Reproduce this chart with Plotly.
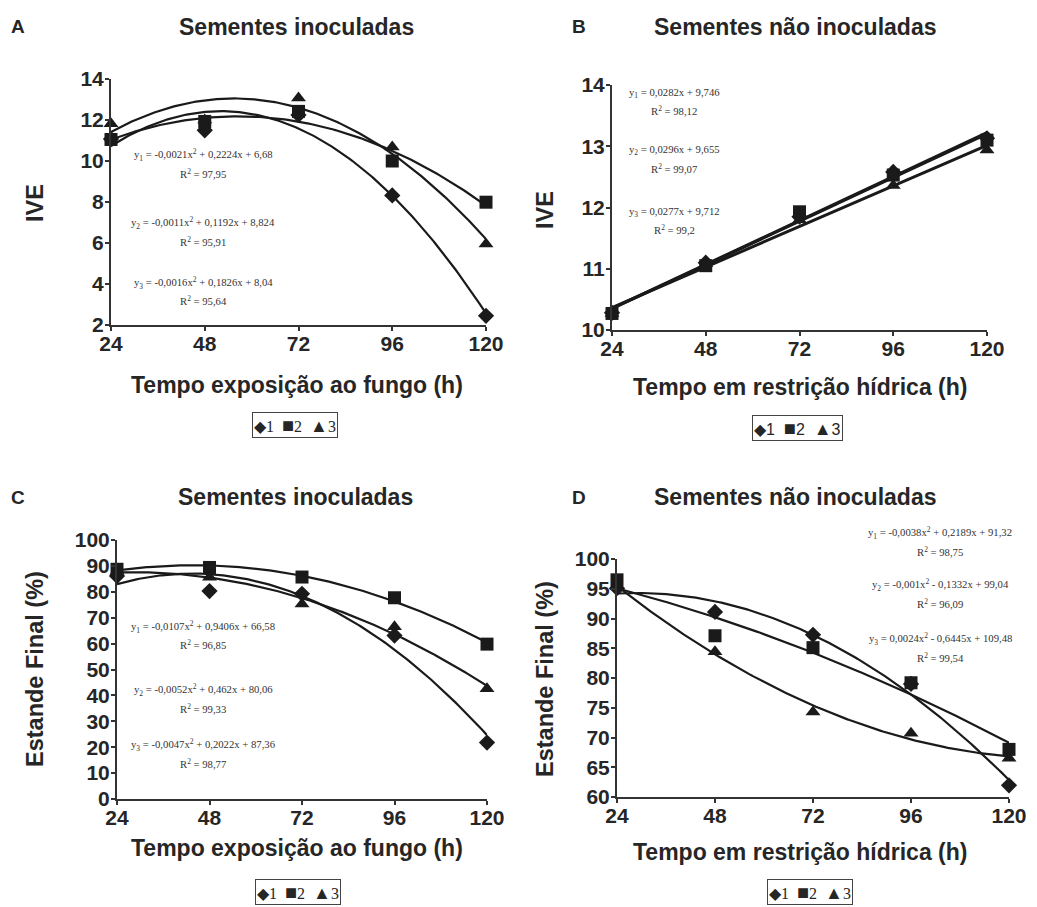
import numpy as np
import plotly.graph_objects as go

# ---------------- data ----------------
hours = [24, 48, 72, 96, 120]
series_names = ["1", "2", "3"]

# Panel A: IVE, inoculated seeds (exposure to fungus)
ive_inoc_1 = [11.07, 11.5, 12.25, 8.32, 2.45]
ive_inoc_2 = [11.05, 11.93, 12.42, 10.0, 7.99]
ive_inoc_3 = [11.82, 12.0, 13.07, 10.68, 5.95]

# Panel B: IVE, non-inoculated seeds (water restriction)
ive_non_1 = [10.28, 11.1, 11.85, 12.58, 13.13]
ive_non_2 = [10.27, 11.05, 11.93, 12.53, 13.1]
ive_non_3 = [10.27, 11.08, 11.8, 12.36, 12.94]

# Panel C: final stand (%), inoculated
est_inoc_1 = [86.1, 80.3, 79.2, 63.1, 21.8]
est_inoc_2 = [88.7, 89.4, 85.7, 77.7, 59.8]
est_inoc_3 = [87.8, 85.6, 75.3, 66.5, 42.6]

# Panel D: final stand (%), non-inoculated
est_non_1 = [95.1, 91.1, 87.25, 79.0, 61.97]
est_non_2 = [96.5, 87.1, 85.1, 79.2, 68.0]
est_non_3 = [95.4, 84.4, 74.3, 70.7, 66.5]

eq_A = ["y<sub>1</sub> = -0,0021x<sup>2</sup> + 0,2224x + 6,68", "R<sup>2</sup> = 97,95",
        "y<sub>2</sub> = -0,0011x<sup>2</sup> + 0,1192x + 8,824", "R<sup>2</sup> = 95,91",
        "y<sub>3</sub> = -0,0016x<sup>2</sup> + 0,1826x + 8,04", "R<sup>2</sup> = 95,64"]
eq_B = ["y<sub>1</sub> = 0,0282x + 9,746", "R<sup>2</sup> = 98,12",
        "y<sub>2</sub> = 0,0296x + 9,655", "R<sup>2</sup> = 99,07",
        "y<sub>3</sub> = 0,0277x + 9,712", "R<sup>2</sup> = 99,2"]
eq_C = ["y<sub>1</sub> = -0,0107x<sup>2</sup> + 0,9406x + 66,58", "R<sup>2</sup> = 96,85",
        "y<sub>2</sub> = -0,0052x<sup>2</sup> + 0,462x + 80,06", "R<sup>2</sup> = 99,33",
        "y<sub>3</sub> = -0,0047x<sup>2</sup> + 0,2022x + 87,36", "R<sup>2</sup> = 98,77"]
eq_D = ["y<sub>1</sub> = -0,0038x<sup>2</sup> + 0,2189x + 91,32", "R<sup>2</sup> = 98,75",
        "y<sub>2</sub> = -0,001x<sup>2</sup> - 0,1332x + 99,04", "R<sup>2</sup> = 96,09",
        "y<sub>3</sub> = 0,0024x<sup>2</sup> - 0,6445x + 109,48", "R<sup>2</sup> = 99,54"]

legend_text = ("◆1&nbsp;&nbsp;<span style='font-size:20px'>■</span>2&nbsp;&nbsp;"
               "<span style='font-size:18px'>▲</span>3")

# ---------------- styling ----------------
W, H = 1037, 907
SANS = "Liberation Sans, Arial, sans-serif"
SERIF = "Liberation Serif, Times New Roman, serif"
TXT = "#262626"
AX = "#333333"
symbols = ["diamond", "square", "triangle-up"]
msize = [12.5, 13, 13]


def px_x(p):
    return p / W


def px_y(p):
    return 1 - p / H


fig = go.Figure()

panels = [
    ("", [ive_inoc_1, ive_inoc_2, ive_inoc_3], 2, (111, 486), (79, 325), [2, 14], 2),
    ("2", [ive_non_1, ive_non_2, ive_non_3], 1, (612, 987), (85, 330), [10, 14], 1),
    ("3", [est_inoc_1, est_inoc_2, est_inoc_3], 2, (117, 487), (540, 799), [0, 100], 10),
    ("4", [est_non_1, est_non_2, est_non_3], 2, (617, 1009), (559, 797), [60, 100], 5),
]

xtitles = ["Tempo exposição ao fungo (h)", "Tempo em restrição hídrica (h)",
           "Tempo exposição ao fungo (h)", "Tempo em restrição hídrica (h)"]
ytitles = ["IVE", "IVE", "Estande Final (%)", "Estande Final (%)"]

xfine = np.linspace(hours[0], hours[-1], 200)

for pi, (k, data, deg, xd, yd, yr, dt) in enumerate(panels):
    xa = "x" + k
    ya = "y" + k
    # trend lines fitted to the read data
    for si, vals in enumerate(data):
        coef = np.polyfit(hours, vals, deg)
        fig.add_trace(go.Scatter(x=xfine, y=np.polyval(coef, xfine), mode="lines",
                                 line=dict(color="#1a1a1a", width=3 if deg == 1 else 2.2),
                                 showlegend=False, hoverinfo="skip", xaxis=xa, yaxis=ya))
    for si, vals in enumerate(data):
        fig.add_trace(go.Scatter(x=hours, y=vals, mode="markers", name=series_names[si],
                                 marker=dict(symbol=symbols[si], size=msize[si], color="#1a1a1a"),
                                 cliponaxis=False, showlegend=False, xaxis=xa, yaxis=ya))
    xkey = "xaxis" + k
    ykey = "yaxis" + k
    fig.layout[xkey] = dict(domain=[px_x(xd[0]), px_x(xd[1])], range=[24, 120],
                            tickvals=hours, ticktext=[str(h) for h in hours],
                            showline=True, linecolor=AX, linewidth=2,
                            ticks="outside", ticklen=4, tickwidth=1.5, tickcolor=AX,
                            ticklabelstandoff=-5,
                            showgrid=False, zeroline=False, anchor=ya, automargin=False,
                            tickfont=dict(family=SANS, size=21, color=TXT, weight="bold"))
    fig.layout[ykey] = dict(domain=[px_y(yd[1]), px_y(yd[0])], range=yr, dtick=dt,
                            showline=True, linecolor=AX, linewidth=2,
                            ticks="outside", ticklen=4, tickwidth=1.5, tickcolor=AX,
                            ticklabelstandoff=-3,
                            showgrid=False, zeroline=False, anchor=xa, automargin=False,
                            tickfont=dict(family=SANS, size=21, color=TXT, weight="bold"))

annotations = []
# panel letters and titles
for letter, lx, tx, ty, title in [("A", 18, 296, 27, "Sementes inoculadas"),
                                  ("B", 579, 795, 27, "Sementes não inoculadas"),
                                  ("C", 18, 295, 497, "Sementes inoculadas"),
                                  ("D", 579, 795, 497, "Sementes não inoculadas")]:
    annotations.append(dict(x=px_x(lx), y=px_y(ty), xref="paper", yref="paper", text="<b>%s</b>" % letter,
                            showarrow=False, xanchor="center", yanchor="middle",
                            font=dict(family=SANS, size=19, color=TXT)))
    annotations.append(dict(x=px_x(tx), y=px_y(ty), xref="paper", yref="paper", text="<b>%s</b>" % title,
                            showarrow=False, xanchor="center", yanchor="middle",
                            font=dict(family=SANS, size=23, color=TXT)))

# axis titles
for t, cx, cy in [(xtitles[0], 297, 385), (xtitles[1], 800, 387),
                  (xtitles[2], 297, 848), (xtitles[3], 800, 852)]:
    annotations.append(dict(x=px_x(cx), y=px_y(cy), xref="paper", yref="paper", text="<b>%s</b>" % t,
                            showarrow=False, xanchor="center", yanchor="middle",
                            font=dict(family=SANS, size=23, color=TXT)))
for t, cx, cy in [(ytitles[0], 35, 203), (ytitles[1], 545, 210),
                  (ytitles[2], 35, 669), (ytitles[3], 545, 679)]:
    annotations.append(dict(x=px_x(cx), y=px_y(cy), xref="paper", yref="paper", text="<b>%s</b>" % t,
                            showarrow=False, xanchor="center", yanchor="middle", textangle=-90,
                            font=dict(family=SANS, size=23.5, color=TXT)))

# equation texts
eq_pos = [
    (eq_A, 203, [155, 173, 223, 241, 283, 300]),
    (eq_B, 674, [93, 110, 150, 168, 212, 230]),
    (eq_C, 203, [627, 644, 690, 708, 745, 763]),
    (eq_D, 940, [533, 551, 585, 603, 639, 657]),
]
for texts, cx, ys in eq_pos:
    for t, yy in zip(texts, ys):
        annotations.append(dict(x=px_x(cx), y=px_y(yy), xref="paper", yref="paper", text=t,
                                showarrow=False, xanchor="center", yanchor="middle",
                                font=dict(family=SERIF, size=10.7, color="#333333")))

# legend boxes (symbol keys for series 1, 2, 3)
for cx, cy, fam in [(295, 425, SERIF), (797, 428, SANS), (298, 892, SERIF), (810, 892, SERIF)]:
    annotations.append(dict(x=px_x(cx), y=px_y(cy), xref="paper", yref="paper", text=legend_text,
                            showarrow=False, xanchor="center", yanchor="middle",
                            bordercolor="#444444", borderwidth=1, borderpad=1, bgcolor="white",
                            font=dict(family=fam, size=16, color=TXT)))

fig.update_layout(annotations=annotations)

fig.update_layout(template="none", width=W, height=H, margin=dict(l=0, r=0, t=0, b=0, autoexpand=False),
                  plot_bgcolor="white", paper_bgcolor="white", showlegend=False)

fig.write_html("out.html", config={"displayModeBar": False},
               post_script="document.body.style.margin='0';document.body.style.overflow='hidden';")
